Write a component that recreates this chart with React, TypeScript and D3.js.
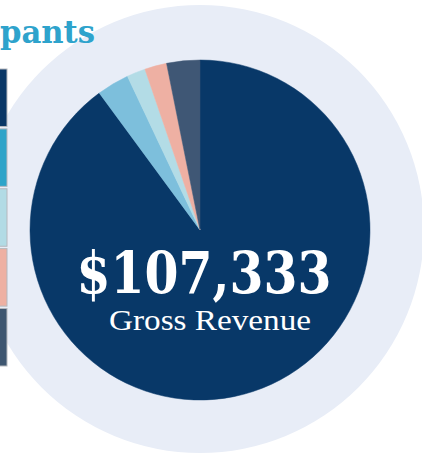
import React from 'react'
import * as d3 from 'd3'

const categories = ['Group A', 'Group B', 'Group C', 'Group D', 'Group E']
const revenue = [96500, 3300, 1900, 2250, 3383]
const legendColors = ['#0a3766', '#2ea4c9', '#b2dbe5', '#eeb0a2', '#3e5670']
const sliceColors = ['#083868', '#7dbfdc', '#b3dce6', '#eeb0a3', '#3f5775']
const totalLabel = '$107,333'
const subLabel = 'Gross Revenue'
const title = 'pants'

export default function App() {
  const width = 422
  const height = 453
  const cx = 200
  const cy = 230
  const radius = 170

  const pie = d3.pie<number>().sort(null).value(d => d)
  const arcs = pie(revenue)
  const arc = d3.arc<d3.PieArcDatum<number>>().innerRadius(0).outerRadius(radius)

  const legendY = d3.scaleBand<string>().domain(categories).range([69, 366]).paddingInner(0.04)

  return (
    <svg width={width} height={height} style={{ position: 'absolute', left: 0, top: 0, display: 'block' }}>
      <rect width={width} height={height} fill="#ffffff" />
      <circle cx={cx} cy={cy - 1} r={224} fill="#e8edf7" />

      <text x={0} y={43} fill="#2ea3cc"
        fontFamily="'DejaVu Serif', serif" fontWeight="bold" fontSize={31}
        textLength={95} lengthAdjust="spacingAndGlyphs">
        {title}
      </text>

      {categories.map((c, i) => (
        <rect key={c} x={-2} y={legendY(c)} width={9} height={legendY.bandwidth()}
          fill={legendColors[i]} stroke="#b5b8bd" strokeWidth={1} />
      ))}

      <g transform={`translate(${cx},${cy})`}>
        {arcs.map((a, i) => (
          <path key={i} d={arc(a) || ''} fill={sliceColors[i]} stroke={sliceColors[i]} strokeWidth={0.5} />
        ))}
      </g>

      <text x={204} y={293} textAnchor="middle" fill="#ffffff"
        fontFamily="'DejaVu Serif', serif" fontWeight="bold" fontSize={58}
        textLength={255} lengthAdjust="spacingAndGlyphs">
        {totalLabel}
      </text>
      <text x={210} y={330} textAnchor="middle" fill="#ffffff"
        fontFamily="'Liberation Serif', serif" fontSize={29}
        textLength={202} lengthAdjust="spacingAndGlyphs">
        {subLabel}
      </text>
    </svg>
  )
}
